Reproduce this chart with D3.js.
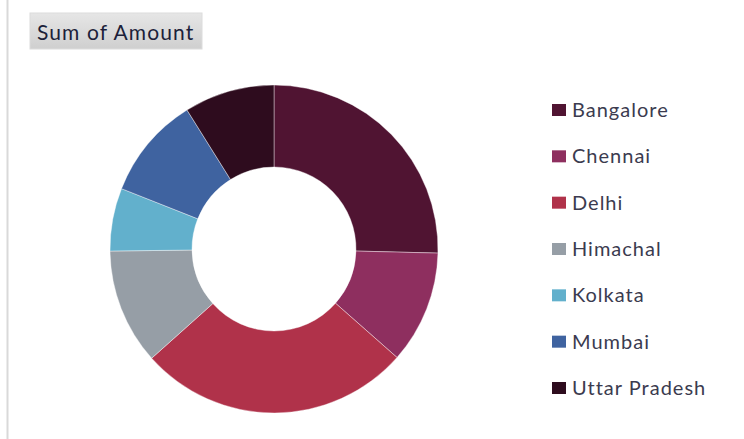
<!DOCTYPE html>
<html>
<head>
<meta charset="utf-8">
<script src="https://cdn.jsdelivr.net/npm/d3@7"></script>
<style>
  body { margin: 0; background: #fff; }
</style>
</head>
<body>
<svg width="744" height="439"></svg>
<script>
// Chart data.
const cities = ["Bangalore", "Chennai", "Delhi", "Himachal", "Kolkata", "Mumbai", "Uttar Pradesh"];
const amounts = [254, 111, 269, 114, 62, 101, 89];
const colours = ["#501432", "#8e2f5f", "#b0324a", "#969ea6", "#62b0cc", "#3f63a0", "#2e0c1e"];
const title = "Sum of Amount";

function drawChart() {
  const svg = d3.select("svg");

  // Thin border on the left edge.
  svg.append("line")
    .attr("x1", 7.5).attr("x2", 7.5)
    .attr("y1", 0).attr("y2", 439)
    .attr("stroke", "#d9d9d9")
    .attr("stroke-width", 2);

  // Title button.
  const grad = svg.append("defs").append("linearGradient")
    .attr("id", "btn")
    .attr("x1", 0).attr("y1", 0).attr("x2", 0).attr("y2", 1);
  grad.append("stop").attr("offset", "0%").attr("stop-color", "#e6e6e6");
  grad.append("stop").attr("offset", "100%").attr("stop-color", "#cfcfcf");

  svg.append("rect")
    .attr("x", 30).attr("y", 13)
    .attr("width", 172).attr("height", 36)
    .attr("fill", "url(#btn)")
    .attr("stroke", "#dcdcdc");

  svg.append("text")
    .attr("x", 37).attr("y", 40)
    .style("font-family", "Lato, 'Open Sans', sans-serif")
    .style("font-size", "21px")
    .style("letter-spacing", "1.1px")
    .attr("fill", "#1c1f3a")
    .text(title);

  // Doughnut.
  const cx = 274, cy = 249;
  const outer = 164, inner = 82;

  const pie = d3.pie().sort(null).value(d => d)(amounts);
  const arc = d3.arc().innerRadius(inner).outerRadius(outer);

  svg.append("g")
    .attr("transform", "translate(" + cx + "," + cy + ")")
    .selectAll("path")
    .data(pie)
    .enter()
    .append("path")
    .attr("d", arc)
    .attr("fill", (d, i) => colours[i])
    .attr("stroke", "#fff")
    .attr("stroke-width", 0.4);

  // Legend.
  const rowY = d3.scalePoint().domain(cities).range([110, 388]);
  const legend = svg.append("g");

  legend.selectAll("rect")
    .data(cities)
    .enter()
    .append("rect")
    .attr("x", 552)
    .attr("y", d => rowY(d) - 6)
    .attr("width", 14)
    .attr("height", 12)
    .attr("fill", (d, i) => colours[i]);

  legend.selectAll("text")
    .data(cities)
    .enter()
    .append("text")
    .attr("x", 572)
    .attr("y", d => rowY(d) + 7)
    .style("font-family", "Lato, 'Open Sans', sans-serif")
    .style("font-size", "20px")
    .style("letter-spacing", "1px")
    .attr("fill", "#3b3b4f")
    .text(d => d);
}

window.addEventListener("load", drawChart);
</script>
</body>
</html>
